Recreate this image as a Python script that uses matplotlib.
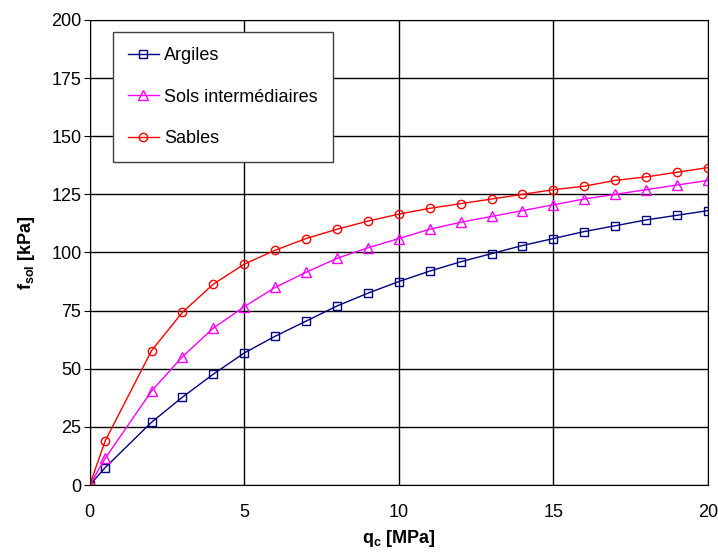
import matplotlib
matplotlib.use("Agg")
from matplotlib import pyplot as plt

plt.rcParams['font.family'] = ['Liberation Sans', 'DejaVu Sans']
plt.rcParams['mathtext.fontset'] = 'custom'
plt.rcParams['mathtext.bf'] = 'Liberation Sans:bold'
plt.rcParams['mathtext.rm'] = 'Liberation Sans'

# q_c [MPa]
qc = [0, 0.5, 2, 3, 4, 5, 6, 7, 8, 9, 10, 11, 12, 13, 14, 15, 16, 17, 18, 19, 20]

# f_sol [kPa]
argiles = [0, 7.5, 27, 37.8, 47.7, 56.8, 64, 70.5, 77, 82.5, 87.5, 92, 96, 99.5,
           103, 106, 109, 111.5, 114, 116, 118]
sols = [0, 11.5, 40.4, 55.2, 67.5, 76.7, 85, 91.5, 97.5, 102, 106, 110, 113,
        115.5, 118, 120.5, 123, 125, 127, 129, 131]
sables = [0, 19, 57.8, 74.3, 86.4, 95, 101, 106, 110, 113.5, 116.5, 119, 121,
          123, 125, 127, 128.5, 131, 132.5, 134.5, 136.5]

fig = plt.figure(figsize=(7.18, 5.54), dpi=100)
ax = fig.add_axes([0.125, 0.1245, 0.861, 0.8395])

ax.plot(qc, argiles, color='#000080', lw=1, marker='s', ms=6, mfc='none',
        mew=1, label='Argiles')
ax.plot(qc, sols, color='#FF00FF', lw=1, marker='^', ms=7, mfc='none',
        mew=1, label='Sols intermédiaires')
ax.plot(qc, sables, color='#FF0000', lw=1, marker='o', ms=6, mfc='none',
        mew=1, label='Sables')

ax.set_xlim(0, 20)
ax.set_ylim(0, 200)
ax.set_xticks([0, 5, 10, 15, 20])
ax.set_yticks(range(0, 201, 25))
ax.grid(True, color='black', lw=1)
ax.set_axisbelow(True)
for s in ax.spines.values():
    s.set_color('black')
ax.tick_params(axis='x', length=0, pad=14, labelsize=13)
ax.tick_params(axis='y', length=4, direction='out', pad=2, labelsize=13)

ax.set_xlabel(r'$\mathbf{q_c}$ $\mathbf{[MPa]}$', fontsize=13, labelpad=5)
ax.set_ylabel(r'$\mathbf{f_{sol}}$ $\mathbf{[kPa]}$', fontsize=13, labelpad=10)

leg = ax.legend(loc='upper left', bbox_to_anchor=(0.037, 0.974), fontsize=13,
                fancybox=False, framealpha=1, edgecolor='#404040',
                labelspacing=1.35, borderpad=0.85, handlelength=1.7,
                handletextpad=0.3, borderaxespad=0)
leg.get_frame().set_linewidth(1)

fig.savefig('out.png', dpi=100)
